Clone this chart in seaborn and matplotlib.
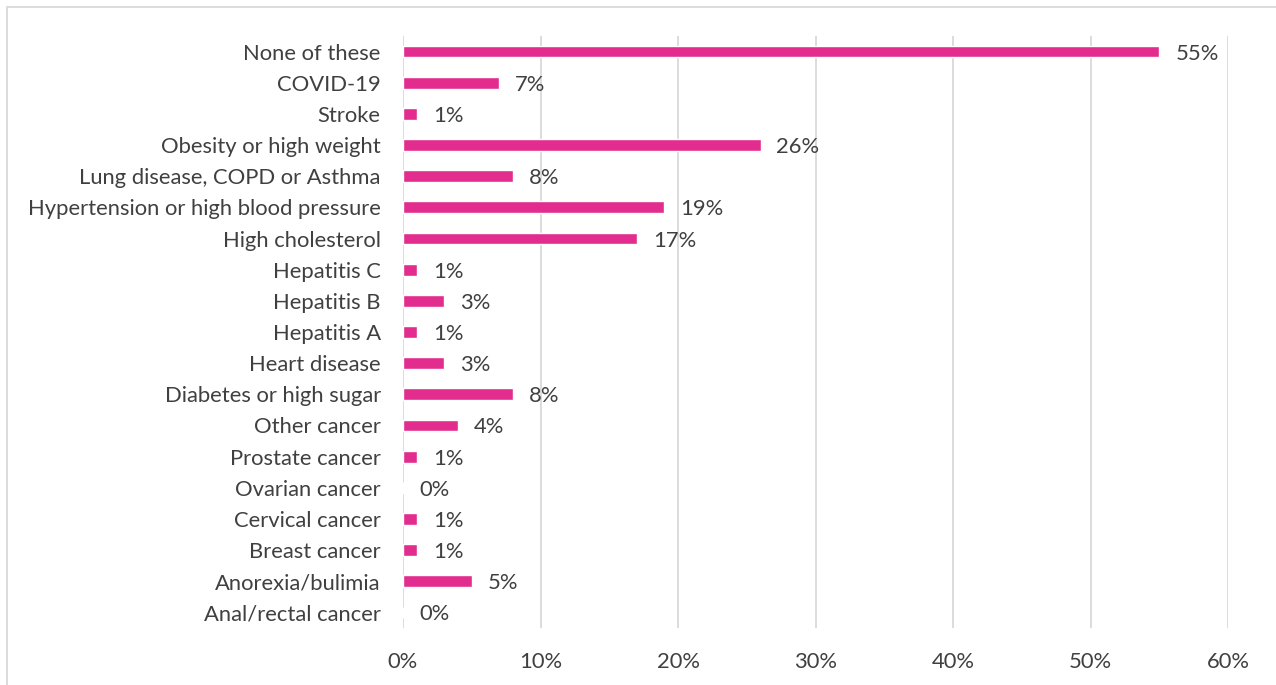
import matplotlib
matplotlib.use("Agg")
import matplotlib.pyplot as plt
import seaborn as sns
import pandas as pd
from matplotlib.patches import Rectangle

categories = [
    "None of these", "COVID-19", "Stroke", "Obesity or high weight",
    "Lung disease, COPD or Asthma", "Hypertension or high blood pressure",
    "High cholesterol", "Hepatitis C", "Hepatitis B", "Hepatitis A",
    "Heart disease", "Diabetes or high sugar", "Other cancer",
    "Prostate cancer", "Ovarian cancer", "Cervical cancer", "Breast cancer",
    "Anorexia/bulimia", "Anal/rectal cancer",
]
values = [55, 7, 1, 26, 8, 19, 17, 1, 3, 1, 3, 8, 4, 1, 0, 1, 1, 5, 0]
xticks = [0, 10, 20, 30, 40, 50, 60]

df = pd.DataFrame({"category": categories, "value": values})

sns.set_theme(style="white")
plt.rcParams["font.family"] = ["Lato", "DejaVu Sans"]

W, H = 1276, 685
fig = plt.figure(figsize=(W / 100, H / 100), dpi=100)
ax = fig.add_axes([403 / W, 1 - 628 / H, (1228 - 403) / W, (628 - 36) / H])

bar_color = "#E22D8E"
text_color = "#404040"
fs = 15.8

sns.barplot(data=df, x="value", y="category", order=categories, color=bar_color,
            width=0.38, saturation=1, ax=ax, zorder=3)

ax.set_xlim(0, 60)
ax.set_ylim(len(categories) - 0.5, -0.5)
ax.set_xticks(xticks)
ax.set_xticklabels([f"{t}%" for t in xticks])
ax.set_xlabel("")
ax.set_ylabel("")
ax.grid(axis="x", color="#D9D9D9", linewidth=1.3, zorder=0)
ax.set_axisbelow(True)
for s in ax.spines.values():
    s.set_visible(False)
ax.tick_params(axis="y", length=0, pad=16, labelsize=fs, labelcolor=text_color)
ax.tick_params(axis="x", length=0, pad=17, labelsize=fs, labelcolor=text_color)
for lbl in ax.get_yticklabels():
    lbl.set_va("center_baseline")

for i, v in enumerate(values):
    ax.annotate(f"{v}%", xy=(v, i), xytext=(11.5, 0), textcoords="offset points",
                ha="left", va="center_baseline", fontsize=fs, color=text_color)

fig.add_artist(Rectangle((7 / W, -0.05), 1.1, 1 - 7 / H + 0.05, transform=fig.transFigure,
                         fill=False, edgecolor="#D9D9D9", linewidth=1.3))

fig.savefig("out.png", dpi=100, facecolor="white")
